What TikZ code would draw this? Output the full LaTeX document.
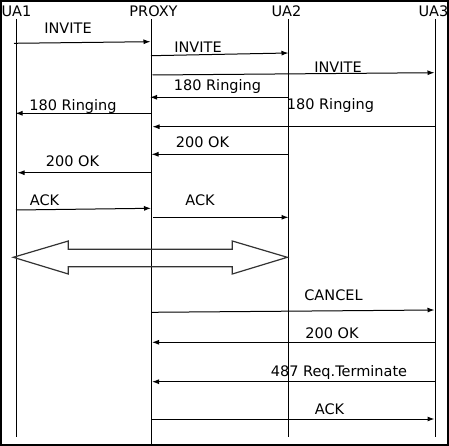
\documentclass[tikz,border=0pt]{standalone}
\usepackage{fontspec}
\setmainfont{DejaVu Sans}
\usetikzlibrary{arrows.meta}
\tikzset{every picture/.style={x=1pt,y=-1pt}}
\tikzset{lifeline/.style={line width=1pt}}
\tikzset{msg/.style={line width=1pt,-{Latex[length=7pt,width=5pt]}}}
\tikzset{lbl/.style={anchor=base,inner sep=0pt,font=\fontsize{14.5}{17}\selectfont}}
\tikzset{bigarrow/.style={draw=black!80,line width=1.2pt}}

\begin{document}
\begin{tikzpicture}
\useasboundingbox (0,0) rectangle (449,446);
\draw [line width=2pt] (1,1) rectangle (448,445);

\node [lbl] (ua1) at (16.5,17) {UA1};
\node [lbl] (proxy) at (153.5,17) {PROXY};
\node [lbl] (ua2) at (286.5,17) {UA2};
\node [lbl] (ua3) at (433.5,17) {UA3};

\coordinate (ua1t) at (16,19);
\coordinate (ua1b) at (16,437);
\coordinate (proxyt) at (151,19);
\coordinate (proxyb) at (151,445);
\coordinate (ua2t) at (288.5,19);
\coordinate (ua2b) at (288.5,437);
\coordinate (ua3t) at (435,19);
\coordinate (ua3b) at (435,437);
\draw [lifeline] (ua1t) -- (ua1b);
\draw [lifeline] (proxyt) -- (proxyb);
\draw [lifeline] (ua2t) -- (ua2b);
\draw [lifeline] (ua3t) -- (ua3b);

\coordinate (m1s) at (14,43.3);
\coordinate (m1e) at (150.5,41.7);
\draw [msg] (m1s) -- (m1e);
\node [lbl] (l1) at (68,34) {INVITE};

\coordinate (m2s) at (151,55.7);
\coordinate (m2e) at (288.5,53);
\draw [msg] (m2s) -- (m2e);
\node [lbl] (l2) at (198,53) {INVITE};

\coordinate (m3s) at (152.5,75);
\coordinate (m3e) at (434.5,72.7);
\draw [msg] (m3s) -- (m3e);
\node [lbl] (l3) at (338,73) {INVITE};

\coordinate (m4s) at (288.5,97.3);
\coordinate (m4e) at (150,97.3);
\draw [msg] (m4s) -- (m4e);
\node [lbl] (l4) at (217.5,91) {180 Ringing};

\coordinate (m5s) at (151,113.3);
\coordinate (m5e) at (15.5,113.3);
\draw [msg] (m5s) -- (m5e);
\node [lbl] (l5) at (73,110.5) {180 Ringing};

\coordinate (m6s) at (435,126.7);
\coordinate (m6e) at (152.5,126.7);
\draw [msg] (m6s) -- (m6e);
\node [lbl] (l6) at (330.5,109.5) {180 Ringing};

\coordinate (m7s) at (288.5,154.3);
\coordinate (m7e) at (151.5,154.3);
\draw [msg] (m7s) -- (m7e);
\node [lbl] (l7) at (202.5,148) {200 OK};

\coordinate (m8s) at (151,172.7);
\coordinate (m8e) at (17.5,172.7);
\draw [msg] (m8s) -- (m8e);
\node [lbl] (l8) at (72.5,167) {200 OK};

\coordinate (m9s) at (16,210);
\coordinate (m9e) at (151,208.3);
\draw [msg] (m9s) -- (m9e);
\node [lbl] (l9) at (44.5,205) {ACK};

\coordinate (m10s) at (153,217.3);
\coordinate (m10e) at (288.5,217.3);
\draw [msg] (m10s) -- (m10e);
\node [lbl] (l10) at (200,206) {ACK};

% media between UA1 and UA2
\draw [bigarrow] (13.3,257.3) -- (68.3,241) -- (68.3,249.3) -- (232.3,249.3)
  -- (232.3,241) -- (287.3,257.3) -- (232.3,274) -- (232.3,266.7)
  -- (68.3,266.7) -- (68.3,274) -- cycle;

\coordinate (m11s) at (152,312.3);
\coordinate (m11e) at (434.5,310);
\draw [msg] (m11s) -- (m11e);
\node [lbl] (l11) at (333.5,300) {CANCEL};

\coordinate (m12s) at (435,342.3);
\coordinate (m12e) at (152,342.3);
\draw [msg] (m12s) -- (m12e);
\node [lbl] (l12) at (332,338) {200 OK};

\coordinate (m13s) at (435,381.7);
\coordinate (m13e) at (152,381.7);
\draw [msg] (m13s) -- (m13e);
\node [lbl] (l13) at (339,376) {487 Req.Terminate};

\coordinate (m14s) at (152,419);
\coordinate (m14e) at (434.5,419);
\draw [msg] (m14s) -- (m14e);
\node [lbl] (l14) at (329.5,414) {ACK};
\end{tikzpicture}
\end{document}
